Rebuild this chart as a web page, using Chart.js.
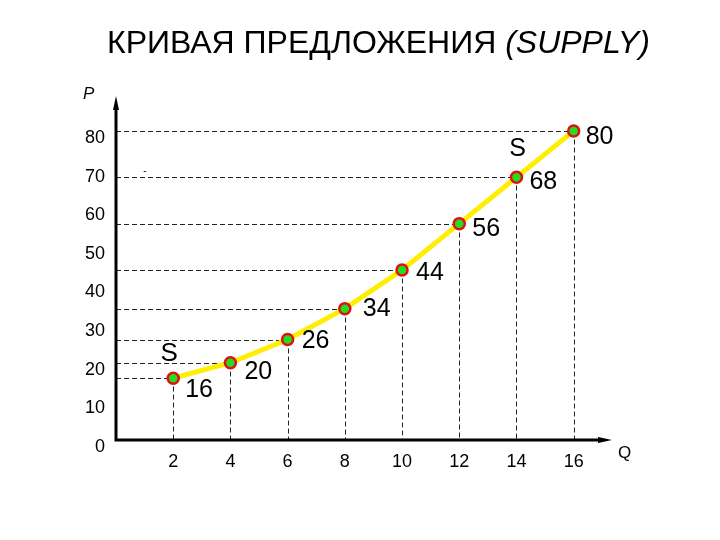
<!DOCTYPE html>
<html>
<head>
<meta charset="utf-8">
<script src="https://cdn.jsdelivr.net/npm/chart.js@4"></script>
<style>
  html, body { margin: 0; padding: 0; background: #ffffff; }
  #wrap { width: 720px; height: 540px; }
</style>
</head>
<body>
<div id="wrap"><canvas id="c" width="720" height="540"></canvas></div>
<script>
// ---- data ----
const quantities = [2, 4, 6, 8, 10, 12, 14, 16];
const prices = [16, 20, 26, 34, 44, 56, 68, 80];
const xTicks = [2, 4, 6, 8, 10, 12, 14, 16];
const yTicks = [0, 10, 20, 30, 40, 50, 60, 70, 80];
const titleMain = 'КРИВАЯ ПРЕДЛОЖЕНИЯ ';
const titleItalic = '(SUPPLY)';
const axisLabelY = 'P';
const axisLabelX = 'Q';
const curveLabel = 'S';

// layout (pixel offsets of value labels relative to their points)
const labelOffsets = [[12, 12], [14, 9], [14, 2], [18, 0], [14, 3], [13, 5], [13, 5], [12, 6]];

const FONT = '"Liberation Sans", Arial, sans-serif';

const decorPlugin = {
  id: 'decor',
  beforeDatasetsDraw(chart) {
    const ctx = chart.ctx;
    const xs = chart.scales.x, ys = chart.scales.y;
    const area = chart.chartArea;
    ctx.save();
    ctx.strokeStyle = '#222222';
    ctx.lineWidth = 1;
    ctx.setLineDash([5, 3]);
    quantities.forEach((q, i) => {
      const px = Math.round(xs.getPixelForValue(q)) + 0.5;
      const py = Math.round(ys.getPixelForValue(prices[i])) + 0.5;
      ctx.beginPath();
      ctx.moveTo(area.left, py);
      ctx.lineTo(px, py);
      ctx.moveTo(px, py);
      ctx.lineTo(px, area.bottom);
      ctx.stroke();
    });
    ctx.setLineDash([]);
    // axes
    ctx.strokeStyle = '#000000';
    ctx.fillStyle = '#000000';
    ctx.lineWidth = 3;
    const ox = area.left, oy = area.bottom;
    ctx.beginPath();
    ctx.moveTo(ox, oy + 1.5);
    ctx.lineTo(ox, area.top + 8);
    ctx.moveTo(ox - 1.5, oy);
    ctx.lineTo(area.right - 6, oy);
    ctx.stroke();
    // arrow heads
    ctx.beginPath();
    ctx.moveTo(ox, area.top - 4);
    ctx.lineTo(ox - 3, area.top + 10);
    ctx.lineTo(ox + 3, area.top + 10);
    ctx.closePath();
    ctx.fill();
    ctx.beginPath();
    ctx.moveTo(area.right + 4, oy);
    ctx.lineTo(area.right - 10, oy - 3);
    ctx.lineTo(area.right - 10, oy + 3);
    ctx.closePath();
    ctx.fill();
    ctx.restore();
  },
  afterDatasetsDraw(chart) {
    const ctx = chart.ctx;
    const xs = chart.scales.x, ys = chart.scales.y;
    ctx.save();
    ctx.fillStyle = '#000000';
    // value labels
    ctx.font = '25px ' + FONT;
    ctx.textAlign = 'left';
    ctx.textBaseline = 'middle';
    quantities.forEach((q, i) => {
      const px = xs.getPixelForValue(q);
      const py = ys.getPixelForValue(prices[i]);
      ctx.fillText(String(prices[i]), px + labelOffsets[i][0], py + labelOffsets[i][1]);
    });
    // S labels
    ctx.font = '26px ' + FONT;
    ctx.textAlign = 'center';
    const p0x = xs.getPixelForValue(quantities[0]);
    const p0y = ys.getPixelForValue(prices[0]);
    ctx.fillText(curveLabel, p0x - 4, p0y - 24);
    const pnx = xs.getPixelForValue(quantities[6]);
    const pny = ys.getPixelForValue(prices[6]);
    ctx.font = '25px ' + FONT;
    ctx.fillText(curveLabel, pnx + 1, pny - 28);
    // stray dash
    ctx.font = '10px ' + FONT;
    ctx.fillText('-', 145, 171);
    // axis labels
    ctx.font = 'italic 17px ' + FONT;
    ctx.textAlign = 'left';
    ctx.fillText(axisLabelY, 83, 94);
    ctx.font = '17px ' + FONT;
    ctx.fillText(axisLabelX, 618, 453);
    // title
    ctx.textBaseline = 'alphabetic';
    ctx.font = '32px ' + FONT;
    const tx = 107, ty = 53;
    ctx.fillText(titleMain, tx, ty);
    const w = ctx.measureText(titleMain).width;
    ctx.font = 'italic 32px ' + FONT;
    ctx.fillText(titleItalic, tx + w, ty);
    ctx.restore();
  }
};

new Chart(document.getElementById('c'), {
  type: 'scatter',
  data: {
    datasets: [{
      data: quantities.map((q, i) => ({ x: q, y: prices[i] })),
      showLine: true,
      borderColor: '#ffee00',
      borderWidth: 5,
      tension: 0,
      pointRadius: 5.5,
      pointBorderWidth: 2.5,
      pointBorderColor: '#e01010',
      pointBackgroundColor: '#22dd22',
      pointHoverRadius: 5.5
    }]
  },
  options: {
    responsive: false,
    animation: false,
    devicePixelRatio: 1,
    layout: { padding: { left: 0, right: 112, top: 100, bottom: 0 } },
    plugins: { legend: { display: false }, tooltip: { enabled: false }, title: { display: false } },
    scales: {
      x: {
        type: 'linear', min: 0, max: 17.2,
        grid: { display: false, drawTicks: false },
        border: { display: false },
        afterBuildTicks: s => { s.ticks = xTicks.map(v => ({ value: v })); },
        afterFit: s => { s.height = 100; },
        ticks: { font: { size: 18, family: FONT }, color: '#000000', padding: 11, maxRotation: 0, autoSkip: false }
      },
      y: {
        type: 'linear', min: 0, max: 88,
        grid: { display: false, drawTicks: false },
        border: { display: false },
        afterBuildTicks: s => { s.ticks = yTicks.map(v => ({ value: v })); },
        afterFit: s => { s.width = 116; },
        ticks: { font: { size: 18, family: FONT }, color: '#000000', padding: 11, labelOffset: 7, autoSkip: false }
      }
    }
  },
  plugins: [decorPlugin]
});
</script>
</body>
</html>
